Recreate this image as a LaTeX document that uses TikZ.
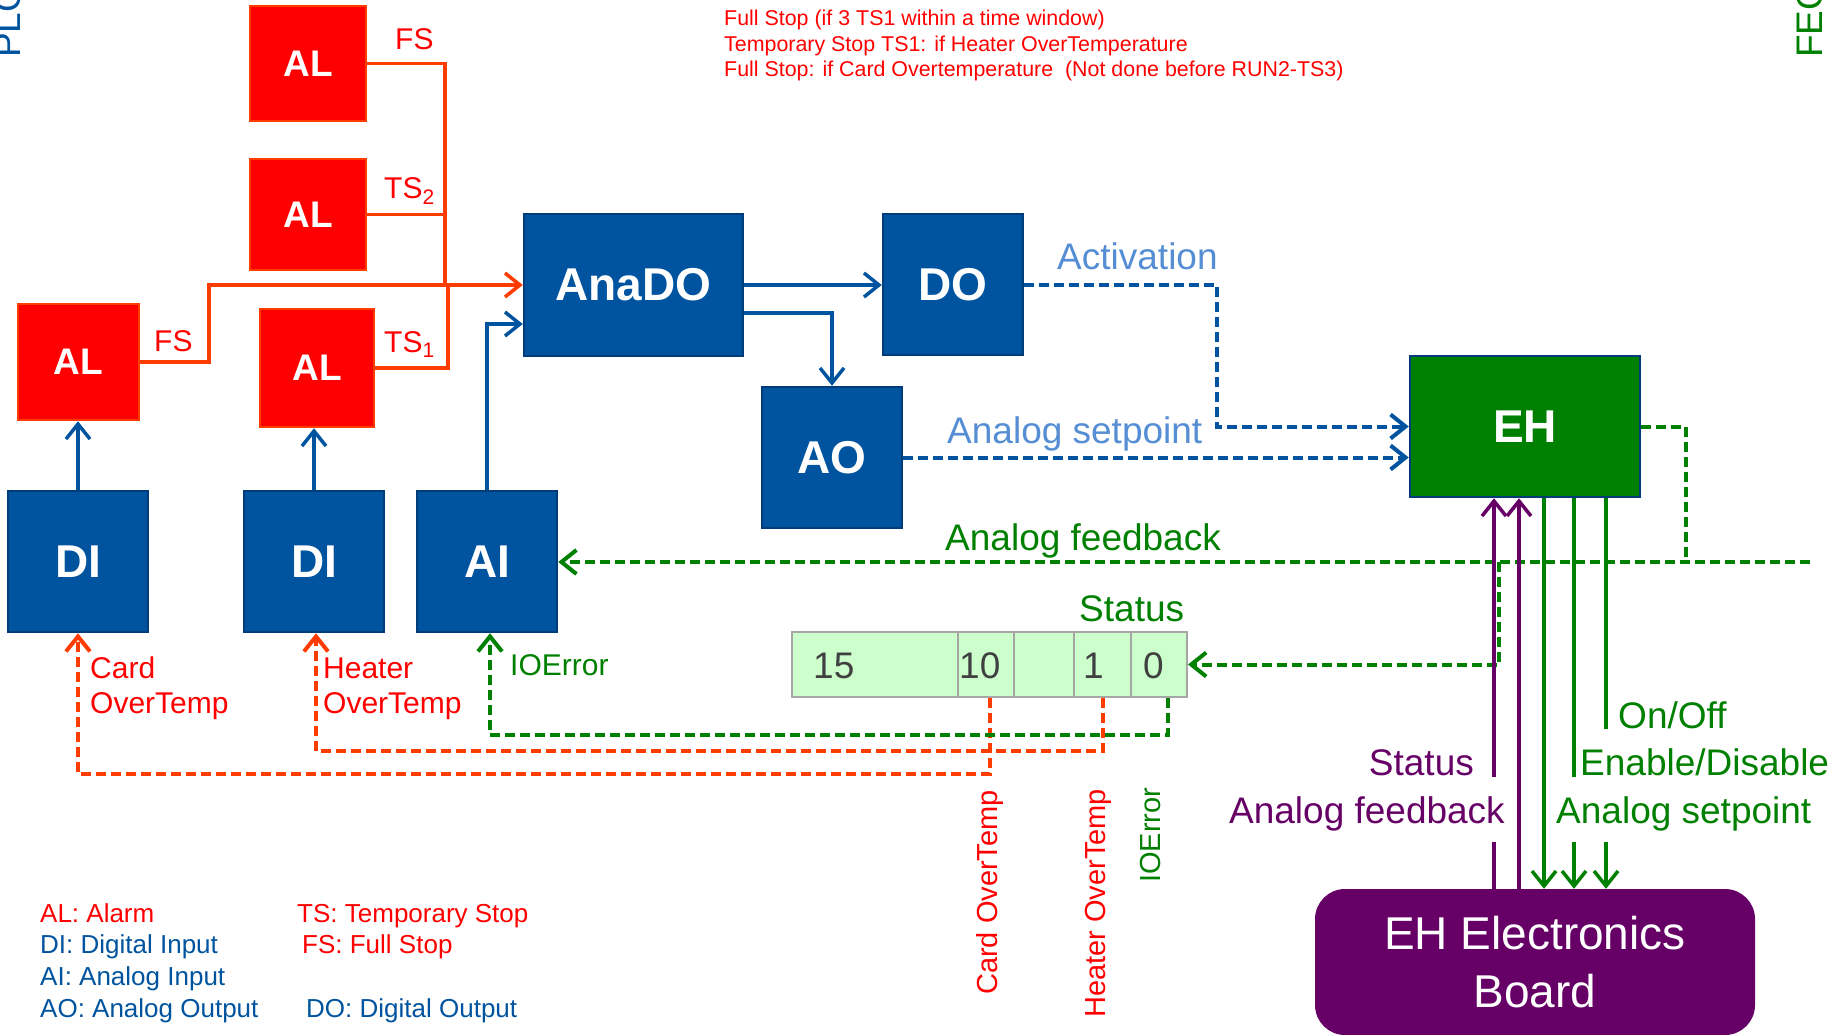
\documentclass[tikz,border=0pt]{standalone}
\usepackage{fontspec}
\setmainfont{Liberation Sans}
\usetikzlibrary{arrows.meta,calc}

\definecolor{boxblue}{HTML}{00549F}
\definecolor{edgeblue}{HTML}{003B7A}
\definecolor{alred}{HTML}{FF0000}
\definecolor{lnred}{HTML}{FF3C00}
\definecolor{txred}{HTML}{FF0000}
\definecolor{ehgreen}{HTML}{008000}
\definecolor{lngreen}{HTML}{008000}
\definecolor{bdpurple}{HTML}{660066}
\definecolor{ltblue}{HTML}{558ED5}
\definecolor{numgray}{HTML}{404040}
\definecolor{reggray}{HTML}{A6A6A6}
\definecolor{regfill}{HTML}{CCFFCC}

\newcommand\fsz[1]{\fontsize{#1}{#1}\selectfont}

\begin{document}
\begin{tikzpicture}[x=1pt,y=-1pt,
  blk/.style={draw=edgeblue, fill=boxblue, line width=2.5pt, text=white,
    font=\fsz{46}\bfseries, minimum width=140pt, minimum height=141pt, inner sep=0pt},
  alarm/.style={draw=lnred, fill=alred, line width=2.5pt, text=white,
    font=\fsz{37}\bfseries, inner sep=0pt},
  cell/.style={draw=reggray, fill=regfill, line width=2pt, minimum height=65pt, inner sep=0pt},
  lab/.style={inner sep=0pt, anchor=base west},
  wlab/.style={fill=white, inner xsep=2pt, inner ysep=11pt, text height=35pt,
    text depth=8pt, font=\fsz{37}},
  tipped/.style={-{Straight Barb[length=15pt,width=24pt]}},
  rline/.style={draw=lnred, line width=3.5pt},
  bline/.style={draw=boxblue, line width=3.5pt},
  pline/.style={draw=bdpurple, line width=3.5pt},
  gline/.style={draw=lngreen, line width=3.5pt},
  rdash/.style={draw=lnred, line width=4pt, dash pattern=on 10pt off 5pt},
  bdash/.style={draw=boxblue, line width=4pt, dash pattern=on 10pt off 5pt},
  gdash/.style={draw=lngreen, line width=4pt, dash pattern=on 10pt off 5pt}]

\useasboundingbox (0,0) rectangle (1843,1035);
\clip (0,0) rectangle (1843,1035);
\fill[white] (0,0) rectangle (1843,1035);

% side titles
\node[lab, rotate=90, text=boxblue, font=\fsz{37}] (plc) at (20,58) {PLC};
\node[lab, rotate=90, text=lngreen, font=\fsz{37}] (fec) at (1822,58) {FEC};

% notes
\node[lab, text=txred, font=\fsz{21.4}] (note1) at (724,25.3) {Full Stop (if 3 TS1 within a time window)};
\node[lab, text=txred, font=\fsz{21.4}] (note2) at (724,51.2) {Temporary Stop TS1: if Heater OverTemperature};
\node[lab, text=txred, font=\fsz{21.4}] (note3) at (724,77) {Full Stop: if Card Overtemperature\ \ (Not done before RUN2-TS3)};

% alarms
\node[alarm, minimum width=116pt, minimum height=115pt] (al1) at (308,63.5) {AL};
\node[alarm, minimum width=116pt, minimum height=111pt] (al2) at (308,214.5) {AL};
\node[alarm, minimum width=121pt, minimum height=116pt] (al3) at (78.5,362) {AL};
\node[alarm, minimum width=114pt, minimum height=118pt] (al4) at (317,368) {AL};

% PLC blocks
\node[blk, minimum width=219pt, minimum height=142pt] (anado) at (633.5,285) {AnaDO};
\node[blk] (do) at (953,284.5) {DO};
\node[blk] (ao) at (832,457.5) {AO};
\node[blk, fill=ehgreen, minimum width=230pt] (eh) at (1525,426.5) {EH};
\node[blk] (di1) at (78,561.5) {DI};
\node[blk] (di2) at (314,561.5) {DI};
\node[blk] (ai) at (487,561.5) {AI};

% electronics board
\node[fill=bdpurple, rounded corners=30pt, minimum width=440pt, minimum height=146pt,
  text=white, font=\fontsize{46}{58}\selectfont, align=center, inner sep=0pt]
  (board) at (1535,962) {EH Electronics\\Board};

% status register
\node[cell, minimum width=166pt] (r15) at (875,664.5) {};
\node[cell, minimum width=56pt] (r10) at (986,664.5) {};
\node[cell, minimum width=60pt] (rb) at (1044,664.5) {};
\node[cell, minimum width=57pt] (r1) at (1102.5,664.5) {};
\node[cell, minimum width=56pt] (r0) at (1159,664.5) {};
\node[lab, text=numgray, font=\fsz{37}] (n15) at (813,678) {15};
\node[lab, text=numgray, font=\fsz{37}] (n10) at (959,678) {10};
\node[lab, text=numgray, font=\fsz{37}] (n1) at (1083,678) {1};
\node[lab, text=numgray, font=\fsz{37}] (n0) at (1143,678) {0};
\node[lab, text=lngreen, font=\fsz{37}] (lst) at (1079,621) {Status};

% alarm chain into AnaDO
\coordinate (rj3) at (209,285);
\coordinate (rj1) at (445,285);
\coordinate (rj4) at (448,285);
\draw[rline,tipped] (al3.east) -| (rj3) -- (anado.west);
\draw[rline] (al1.east) -| (rj1);
\draw[rline] (al2.east) -- (al2.east -| rj1);
\draw[rline] (al4.east) -| (rj4);
\node[lab, text=txred, font=\fsz{30}] (lfs1) at (395,50) {FS};
\node[lab, text=txred, font=\fsz{30}] (lts2) at (384,198) {TS\textsubscript{2}};
\node[lab, text=txred, font=\fsz{30}] (lts1) at (384,352) {TS\textsubscript{1}};
\node[lab, text=txred, font=\fsz{30}] (lfs3) at (154,351) {FS};

% PLC internal links
\draw[bline,tipped] (anado.east) -- (anado.east -| do.west);
\draw[bline,tipped] ([yshift=-28pt]anado.east) -| (ao.north);
\draw[bline,tipped] (ai.north) |- ([yshift=-39pt]anado.west);
\draw[bline,tipped] (di1.north) -- (di1.north |- al3.south);
\draw[bline,tipped] (di2.north) -- (di2.north |- al4.south);

% PLC to EH
\coordinate (dobend) at (1217,0);
\draw[bdash,tipped] (do.east) -| (dobend |- eh.west) -- (eh.west);
\draw[bdash,tipped] (ao.east) -- (ao.east -| eh.west);
\node[lab, text=ltblue, font=\fsz{37}] (lact) at (1057,269) {Activation};
\node[lab, text=ltblue, font=\fsz{37}] (lasp) at (947,443) {Analog setpoint};

% feedback and status back to PLC
\coordinate (fbstart) at (1810,562);
\coordinate (fbjoin) at (1686,562);
\coordinate (stjoin) at (1499,562);
\draw[gdash,tipped] (fbstart) -- (fbstart -| ai.east);
\draw[gdash] (eh.east) -| (fbjoin);
\draw[gdash,tipped] (stjoin) |- (r0.east);
\node[lab, text=lngreen, font=\fsz{37}] (lafb) at (945,550) {Analog feedback};

% status bits to inputs
\draw[rdash,tipped] ([xshift=4pt]r10.south) -- ++(0,76) -| (di1.south);
\draw[rdash,tipped] (r1.south) -- ++(0,53) -| ([xshift=2pt]di2.south);
\draw[gdash,tipped] ([xshift=9pt]r0.south) -- ++(0,37) -| ([xshift=3pt]ai.south);
\node[lab, text=txred, font=\fsz{30}] (lc1) at (90,678) {Card};
\node[lab, text=txred, font=\fsz{30}] (lc2) at (90,713) {OverTemp};
\node[lab, text=txred, font=\fsz{30}] (lh1) at (323,678) {Heater};
\node[lab, text=txred, font=\fsz{30}] (lh2) at (323,713) {OverTemp};
\node[lab, text=lngreen, font=\fsz{30}] (lio) at (510,675) {IOError};
\node[lab, rotate=90, text=txred, font=\fsz{29}] (vcard) at (997,995) {Card OverTemp};
\node[lab, rotate=90, text=txred, font=\fsz{29}] (vheat) at (1105,1018) {Heater OverTemp};
\node[lab, rotate=90, text=lngreen, font=\fsz{29}] (vio) at (1160,883) {IOError};

% EH <-> electronics board
\coordinate (v1) at (1494,0);
\coordinate (v2) at (1519,0);
\coordinate (v3) at (1544,0);
\coordinate (v4) at (1574,0);
\coordinate (v5) at (1606,0);
\draw[pline,tipped] (v1 |- board.north) -- (v1 |- eh.south);
\draw[pline,tipped] (v2 |- board.north) -- (v2 |- eh.south);
\draw[gline,tipped] (v3 |- eh.south) -- (v3 |- board.north);
\draw[gline,tipped] (v4 |- eh.south) -- (v4 |- board.north);
\draw[gline,tipped] (v5 |- eh.south) -- (v5 |- board.north);
\node[wlab, anchor=base west, text=lngreen] (lonoff) at (1616,728) {On/Off};
\node[wlab, anchor=base west, text=lngreen] (lena) at (1578,775) {Enable/Disable};
\node[wlab, anchor=base west, text=lngreen] (lgsp) at (1554,823) {Analog setpoint};
\node[wlab, anchor=base east, text=bdpurple] (lpst) at (1476,775) {Status};
\node[wlab, anchor=base east, text=bdpurple] (lpfb) at (1507,823) {Analog feedback};

% legend
\node[lab, text=txred, font=\fsz{26}] (lg1) at (40,922) {AL: Alarm};
\node[lab, text=boxblue, font=\fsz{26}] (lg2) at (40,953) {DI: Digital Input};
\node[lab, text=boxblue, font=\fsz{26}] (lg3) at (40,985) {AI: Analog Input};
\node[lab, text=boxblue, font=\fsz{26}] (lg4) at (40,1017) {AO: Analog Output};
\node[lab, text=txred, font=\fsz{26}] (lg5) at (297,922) {TS: Temporary Stop};
\node[lab, text=txred, font=\fsz{26}] (lg6) at (302,953) {FS: Full Stop};
\node[lab, text=boxblue, font=\fsz{26}] (lg7) at (306,1017) {DO: Digital Output};
\end{tikzpicture}
\end{document}
